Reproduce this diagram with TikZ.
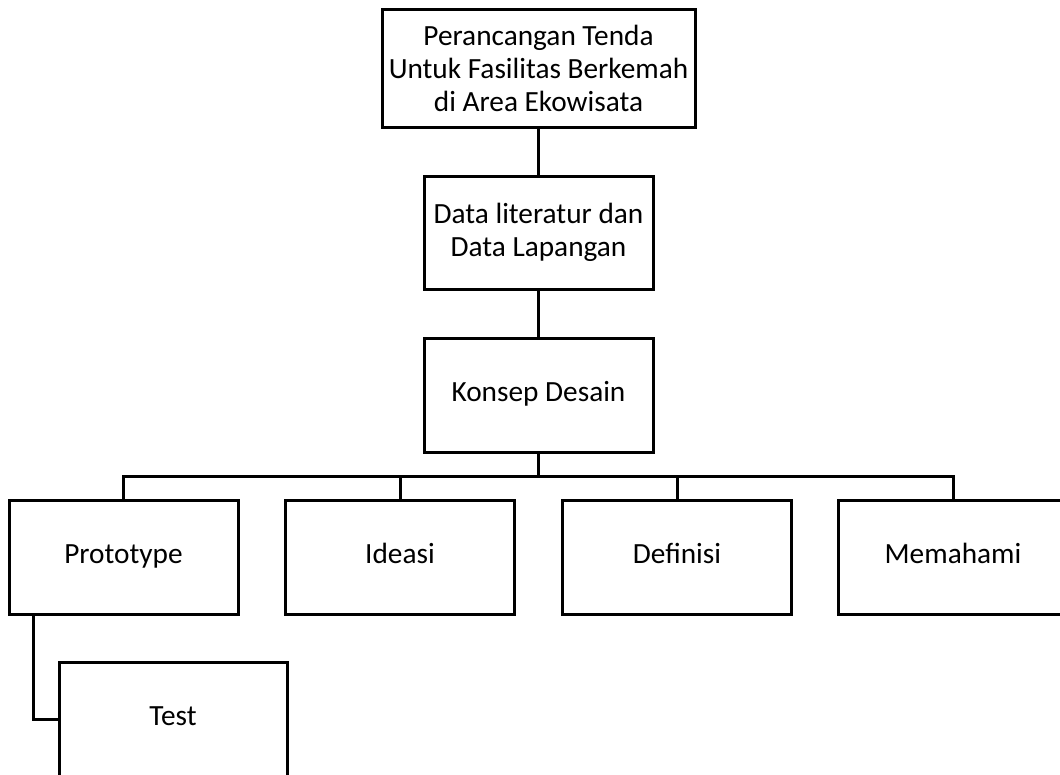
\documentclass[tikz,border=0pt]{standalone}
\usepackage{fontspec}
\setmainfont{Carlito}
\begin{document}
\begin{tikzpicture}[x=1pt,y=-1pt,
  box/.style={draw=black,line width=3pt,fill=white,align=center,inner sep=0pt,
    font=\fontsize{29.3}{33}\selectfont},
  conn/.style={draw=black,line width=3pt}]
\useasboundingbox (0,0) rectangle (1060,774);
\clip (0,0) rectangle (1060,774);
\node[box,minimum width=313pt,minimum height=118pt] (top) at (538.5,68)
  {Perancangan Tenda\\Untuk Fasilitas Berkemah\\di Area Ekowisata};
\node[box,minimum width=229pt,minimum height=113pt] (data) at (538.5,232.5)
  {Data literatur dan\\Data Lapangan};
\node[box,minimum width=229pt,minimum height=114pt] (konsep) at (538.5,395)
  {\strut Konsep Desain};
\node[box,minimum width=229pt,minimum height=114pt] (proto) at (123.5,557) {\strut Prototype};
\node[box,minimum width=229pt,minimum height=114pt] (ideasi) at (400,557) {\strut Ideasi};
\node[box,minimum width=229pt,minimum height=114pt] (definisi) at (677,557) {\strut Definisi};
\node[box,minimum width=229pt,minimum height=114pt] (memahami) at (953,557) {\strut Memahami};
\node[box,minimum width=228pt,minimum height=114pt] (test) at (173,719) {\strut Test};
\coordinate (bus) at (538.5,476);
\coordinate (tap) at (33,614);
\draw[conn] (top) -- (data);
\draw[conn] (data) -- (konsep);
\draw[conn] (konsep.south) -- (konsep.south |- bus);
\draw[conn] (proto.north) |- (memahami.north |- bus) -- (memahami.north);
\draw[conn] (ideasi.north) -- (ideasi.north |- bus);
\draw[conn] (definisi.north) -- (definisi.north |- bus);
\draw[conn] (tap) |- (test.west);
\end{tikzpicture}
\end{document}
